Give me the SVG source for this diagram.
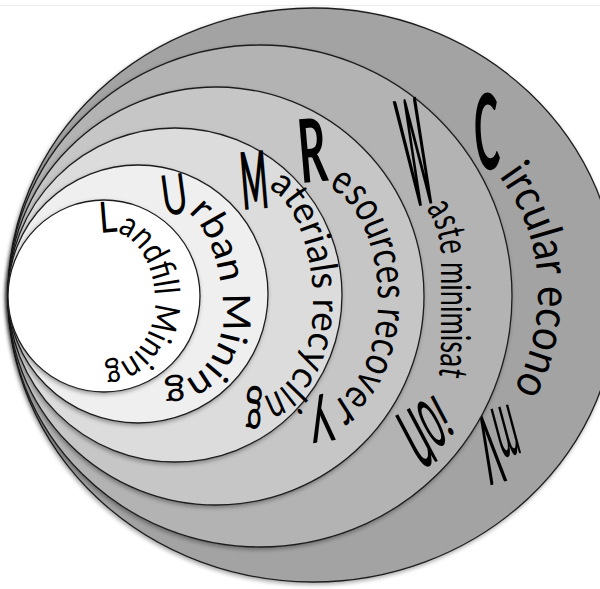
<svg xmlns="http://www.w3.org/2000/svg" width="600" height="589" viewBox="0 0 600 589">
<defs>
<filter id="sh" x="-10%" y="-10%" width="120%" height="120%">
<feDropShadow dx="-1" dy="2" stdDeviation="2" flood-color="#000" flood-opacity="0.35"/>
</filter>
<path id="c1" d="M100,233 L122.9,231.1"/>
<path id="m1" d="M117,232 A50,70 0 0 1 155,300 A50,65 0 0 1 99.8,364.6"/>
<path id="c2" d="M164,216 L194.7,211.8"/>
<path id="m2" d="M188.1,212.6 A53,110 0 0 1 223,315 A53,67 0 0 1 159.9,380.8"/>
<path id="c3" d="M243,210 L274.9,207.3"/>
<path id="m3" d="M268,188.1 A58,120 0 0 1 313,305 A58,92 0 0 1 242.9,395"/>
<path id="c4" d="M301,183 L333.9,180.2"/>
<path id="m4" d="M328,187.5 A65,116 0 0 1 378,300 A65,107 0 0 1 301.7,405.4"/>
<path id="c5" d="M414,207 L442.4,201.2"/>
<path id="m5" d="M426,209 C436,221 441,240 441,262 L441,345 C441,362 440,372 437,382"/>
<path id="e5" d="M436,394 L387,420"/>
<path id="c6" d="M476,170 L506,168.5"/>
<path id="m6" d="M499,176 C520,205 537,240 538,290 C538,330 528,365 512,392"/>
<path id="e6" d="M510,404 L463.6,416.4"/>
</defs>
<style>
.ring{stroke:#1e1e1e;stroke-width:1.3;filter:url(#sh)}
.lbl{font-family:Lato,"Liberation Sans",sans-serif;fill:#000}
.cap{font-weight:bold}
</style>
<rect width="600" height="589" fill="#fff"/>
<line x1="0" y1="5.5" x2="600" y2="5.5" stroke="#ececec" stroke-width="1"/>
<g id="circular-economy">
<ellipse class="ring" cx="313" cy="295" rx="305" ry="287" fill="#a3a3a3"/>
<text class="lbl" font-size="46"><textPath href="#c6"><tspan class="cap" font-size="105" textLength="25" lengthAdjust="spacingAndGlyphs">C</tspan></textPath><textPath href="#m6"><tspan textLength="226" lengthAdjust="spacingAndGlyphs">ircular econo</tspan></textPath><textPath href="#e6"><tspan font-size="99" textLength="22" lengthAdjust="spacingAndGlyphs">m</tspan><tspan font-size="145" textLength="18" lengthAdjust="spacingAndGlyphs">y</tspan></textPath></text>
</g>
<g id="waste-minimisation">
<ellipse class="ring" cx="260" cy="296" rx="252" ry="251" fill="#b3b3b3"/>
<text class="lbl" font-size="40"><textPath href="#c5"><tspan class="cap" font-size="149" textLength="24" lengthAdjust="spacingAndGlyphs">W</tspan></textPath><textPath href="#m5"><tspan textLength="170" lengthAdjust="spacingAndGlyphs">aste minimisat</tspan></textPath><textPath href="#e5"><tspan font-size="60" textLength="9" lengthAdjust="spacingAndGlyphs">i</tspan><tspan font-size="95" textLength="18" lengthAdjust="spacingAndGlyphs">o</tspan><tspan font-size="118" textLength="22" lengthAdjust="spacingAndGlyphs">n</tspan></textPath></text>
</g>
<g id="resources-recovery">
<ellipse class="ring" cx="216" cy="296" rx="208" ry="209" fill="#c6c6c6"/>
<text class="lbl" font-size="42"><textPath href="#c4"><tspan class="cap" font-size="88" textLength="28" lengthAdjust="spacingAndGlyphs">R</tspan></textPath><textPath href="#m4"><tspan textLength="234" lengthAdjust="spacingAndGlyphs">esources recove</tspan><tspan font-size="52" textLength="14" lengthAdjust="spacingAndGlyphs">r</tspan><tspan font-size="70" textLength="24" lengthAdjust="spacingAndGlyphs">y</tspan></textPath></text>
</g>
<g id="materials-recycling">
<ellipse class="ring" cx="175" cy="295" rx="167" ry="167" fill="#dcdcdc"/>
<text class="lbl" font-size="38"><textPath href="#c3"><tspan class="cap" font-size="80" textLength="27" lengthAdjust="spacingAndGlyphs">M</tspan></textPath><textPath href="#m3"><tspan textLength="218" lengthAdjust="spacingAndGlyphs">aterials recycl</tspan><tspan font-size="46" textLength="24" lengthAdjust="spacingAndGlyphs">in</tspan><tspan font-size="62" textLength="17" lengthAdjust="spacingAndGlyphs">g</tspan></textPath></text>
</g>
<g id="urban-mining">
<ellipse class="ring" cx="138" cy="294" rx="130" ry="129" fill="#efefef"/>
<text class="lbl" font-size="38"><textPath href="#c2"><tspan font-size="56" textLength="26" lengthAdjust="spacingAndGlyphs">U</tspan></textPath><textPath href="#m2"><tspan textLength="212" lengthAdjust="spacingAndGlyphs">rban Mining</tspan></textPath></text>
</g>
<g id="landfill-mining">
<ellipse class="ring" cx="104" cy="296" rx="96" ry="96" fill="#ffffff"/>
<text class="lbl" font-size="35"><textPath href="#c1"><tspan font-size="43" textLength="18" lengthAdjust="spacingAndGlyphs">L</tspan></textPath><textPath href="#m1"><tspan textLength="174" lengthAdjust="spacingAndGlyphs">andfill Mining</tspan></textPath></text>
</g>
</svg>
